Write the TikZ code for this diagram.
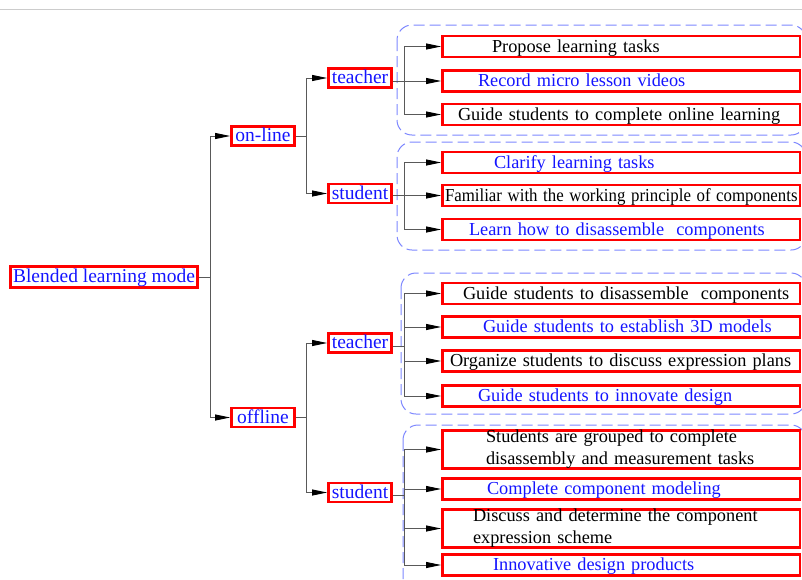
\documentclass[tikz,border=0pt]{standalone}
\usepackage{fontspec}
\usepackage{graphicx}
\setmainfont{Liberation Serif}
\usetikzlibrary{arrows.meta}
\definecolor{myblue}{RGB}{20,20,255}
\definecolor{dashblue}{RGB}{125,135,255}
\begin{document}
\begin{tikzpicture}[x=1pt,y=-1pt,
  lab/.style={draw=red,line width=2.8pt,text=myblue,font=\fontsize{19.5}{22}\selectfont,inner sep=0pt,minimum height=19pt,minimum width=63pt,text height=13.5pt,text depth=2.5pt},
  leaf/.style={draw=red,line width=2.8pt,font=\fontsize{18.3}{22}\selectfont,inner sep=0pt,text width=357.5pt,align=left,minimum height=21pt},
  one/.style={text height=13.5pt,text depth=2.5pt},
  bl/.style={text=myblue},
  conn/.style={draw=black!65,line width=0.9pt,-{Stealth[length=15pt,width=6pt,inset=0pt,color=black]}},
  plain/.style={draw=black!65,line width=0.9pt},
  dgroup/.style={draw=dashblue,line width=1pt,dash pattern=on 11pt off 5pt,rounded corners=15pt}
]
\useasboundingbox (0,0) rectangle (802,579);
\clip (0,0) rectangle (802,579);
\draw[black!20,line width=1pt] (0,9) -- (802,9);

% dashed groups
\draw[dgroup] (397,25) rectangle (806,135);
\draw[dgroup] (397,142) rectangle (806,250);
\draw[dgroup] (401,273) rectangle (806,414);
\draw[dgroup] (403,425) rectangle (806,600);

% labels
\node[lab,minimum width=187pt,minimum height=21pt] (root) at (104,277) {Blended learning mode};
\node[lab] (on) at (263,136) {on-line};
\node[lab] (off) at (263,417.5) {offline};
\node[lab] (t1) at (360,78) {teacher};
\node[lab] (s1) at (360,193.5) {student};
\node[lab] (t2) at (360,343) {teacher};
\node[lab] (s2) at (360,492.5) {student};

% leaves
\node[leaf,one] (a1) at (621.25,46.5) {\hspace*{49.5pt}Propose learning tasks};
\node[leaf,one,bl] (a2) at (621.25,81) {\hspace*{35.5pt}Record micro lesson videos};
\node[leaf,one] (a3) at (621.25,114.5) {\hspace*{15.5pt}Guide students to complete online learning};
\node[leaf,one,bl] (b1) at (621.25,162.5) {\hspace*{51.5pt}Clarify learning tasks};
\node[leaf,one] (b2) at (621.25,195.5) {\hspace*{2.5pt}\scalebox{0.92}[1]{Familiar with the working principle of components}};
\node[leaf,one,bl] (b3) at (621.25,229.5) {\hspace*{26.5pt}Learn how to disassemble\ \ components};
\node[leaf,one] (c1) at (621.25,293.5) {\hspace*{20.5pt}Guide students to disassemble\ \ components};
\node[leaf,one,bl] (c2) at (621.25,327) {\hspace*{40.5pt}Guide students to establish 3D models};
\node[leaf,one] (c3) at (621.25,361) {\hspace*{7.5pt}Organize students to discuss expression plans};
\node[leaf,one,bl] (c4) at (621.25,396) {\hspace*{35.5pt}Guide students to innovate design};
\node[leaf,minimum height=36pt] (d1) at (621.25,449.5) {\hspace*{43.5pt}Students are grouped to complete\\\hspace*{43.5pt}disassembly and measurement tasks};
\node[leaf,one,bl] (d2) at (621.25,489) {\hspace*{44.5pt}Complete component modeling};
\node[leaf,minimum height=36pt] (d3) at (621.25,528.5) {\hspace*{30.5pt}Discuss and determine the component\\\hspace*{30.5pt}expression scheme};
\node[leaf,one,bl] (d4) at (621.25,565) {\hspace*{50.5pt}Innovative design products};

% connectors level 1
\draw[conn] (root.east) -- ++(12,0) |- (on.west);
\draw[conn] (root.east) -- ++(12,0) |- (off.west);
% level 2
\draw[conn] (on.east) -- ++(11,0) |- (t1.west);
\draw[conn] (on.east) -- ++(11,0) |- (s1.west);
\draw[conn] (off.east) -- ++(11,0) |- (t2.west);
\draw[conn] (off.east) -- ++(11,0) |- (s2.west);
% level 3
\draw[plain] (t1.east |- a2.west) -- ++(12,0);
\draw[conn] (t1.east |- a2.west) ++(12,0) |- (a1.west);
\draw[conn] (t1.east |- a2.west) ++(12,0) -- (a2.west);
\draw[conn] (t1.east |- a2.west) ++(12,0) |- (a3.west);

\draw[plain] (s1.east |- b2.west) -- ++(12,0);
\draw[conn] (s1.east |- b2.west) ++(12,0) |- (b1.west);
\draw[conn] (s1.east |- b2.west) ++(12,0) -- (b2.west);
\draw[conn] (s1.east |- b2.west) ++(12,0) |- (b3.west);

\draw[conn] ([yshift=-3pt]t2.east) -- ++(12,0) |- (c1.west);
\draw[conn] ([yshift=-3pt]t2.east) -- ++(12,0) |- (c2.west);
\draw[conn] ([yshift=-3pt]t2.east) -- ++(12,0) |- (c3.west);
\draw[conn] ([yshift=-3pt]t2.east) -- ++(12,0) |- (c4.west);

\draw[conn] ([yshift=-3pt]s2.east) -- ++(12,0) |- (d1.west);
\draw[conn] ([yshift=-3pt]s2.east) -- ++(12,0) |- (d2.west);
\draw[conn] ([yshift=-3pt]s2.east) -- ++(12,0) |- (d3.west);
\draw[conn] ([yshift=-3pt]s2.east) -- ++(12,0) |- (d4.west);
\end{tikzpicture}
\end{document}
